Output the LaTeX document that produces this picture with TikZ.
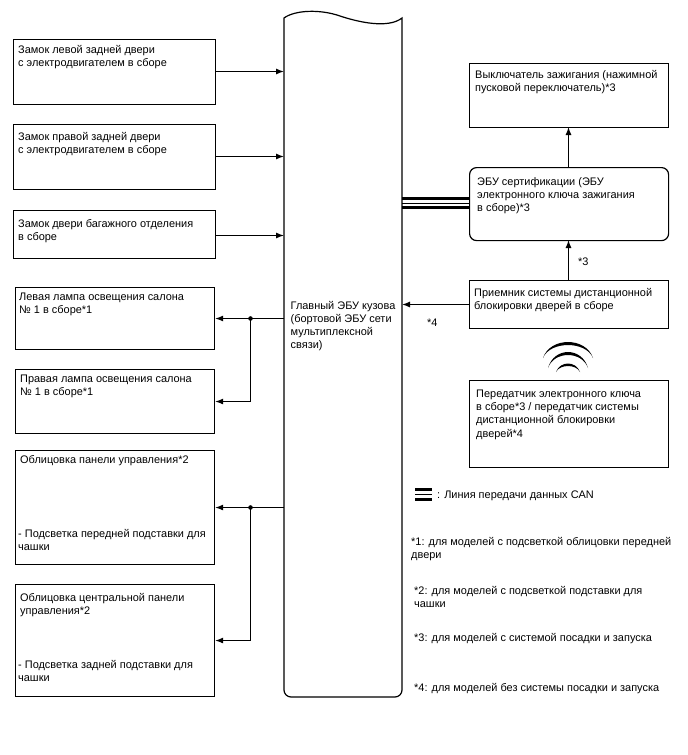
\documentclass[tikz,border=0pt]{standalone}
\usepackage{fontspec}
\setmainfont{Liberation Sans}
\usetikzlibrary{arrows.meta}
\tikzset{
  unitbox/.style={draw,line width=1.2pt,anchor=north west},
  boxtext/.style={anchor=north west,inner sep=0pt,align=left,font=\fontsize{10.95}{13.1}\selectfont},
  sig/.style={line width=1.1pt,-{Latex[length=8pt,width=6pt]}},
  canouter/.style={line width=3pt},
  caninner/.style={line width=1pt}
}
\begin{document}
\begin{tikzpicture}[x=1pt,y=-1pt]
  \useasboundingbox (0,0) rectangle (688,755);
  % left column
  \node[unitbox,minimum width=202pt,minimum height=65pt] (lrdoor) at (13,39) {};
  \node[unitbox,minimum width=202pt,minimum height=65pt] (rrdoor) at (13,124) {};
  \node[unitbox,minimum width=202pt,minimum height=48pt] (trunk) at (13,210) {};
  \node[unitbox,minimum width=199pt,minimum height=62pt] (llamp) at (15,287) {};
  \node[unitbox,minimum width=199pt,minimum height=64pt] (rlamp) at (15,369) {};
  \node[unitbox,minimum width=199pt,minimum height=114pt] (frontpanel) at (15,450) {};
  \node[unitbox,minimum width=199pt,minimum height=112pt] (centerpanel) at (15,584) {};
  \node[boxtext] at (18,45) {Замок левой задней двери\\с электродвигателем в сборе};
  \node[boxtext] at (18,132) {Замок правой задней двери\\с электродвигателем в сборе};
  \node[boxtext] at (18,219) {Замок двери багажного отделения\\в сборе};
  \node[boxtext] at (19,293) {Левая лампа освещения салона\\№ 1 в сборе*1};
  \node[boxtext] at (20,375) {Правая лампа освещения салона\\№ 1 в сборе*1};
  \node[boxtext] at (20,455) {Облицовка панели управления*2};
  \node[boxtext] at (18,529) {- Подсветка передней подставки для\\чашки};
  \node[boxtext] at (20,593) {Облицовка центральной панели\\управления*2};
  \node[boxtext] at (18,660) {- Подсветка задней подставки для\\чашки};
  % main unit
  \draw[line width=1.2pt] (284,18) .. controls (295,10) and (320,9) .. (340,16)
    .. controls (358,22) and (388,29) .. (402,18) -- (402,690) arc[start angle=0,end angle=90,radius=7]
    -- (291,697) arc[start angle=90,end angle=180,radius=7] -- cycle;
  \node[boxtext] (body) at (290.5,301) {Главный ЭБУ кузова\\(бортовой ЭБУ сети\\мультиплексной\\связи)};
  % right column
  \node[unitbox,minimum width=199pt,minimum height=64pt] (ignition) at (469,63) {};
  \node[unitbox,rounded corners=7pt,minimum width=199pt,minimum height=73pt] (cert) at (469,167) {};
  \node[unitbox,minimum width=199pt,minimum height=48pt] (receiver) at (469,280) {};
  \node[unitbox,minimum width=199pt,minimum height=87pt] (transmitter) at (469,380) {};
  \node[boxtext] at (475,70) {Выключатель зажигания (нажимной\\пусковой переключатель)*3};
  \node[boxtext] at (477,177) {ЭБУ сертификации (ЭБУ\\электронного ключа зажигания\\в сборе)*3};
  \node[boxtext] at (474,288.5) {Приемник системы дистанционной\\блокировки дверей в сборе};
  \node[boxtext] at (476,390) {Передатчик электронного ключа\\в сборе*3 / передатчик системы\\дистанционной блокировки\\дверей*4};
  % connectors
  \draw[sig] (lrdoor.east |- 0,71.5) -- (284,71.5);
  \draw[sig] (rrdoor.east |- 0,156.5) -- (284,156.5);
  \draw[sig] (trunk.east |- 0,235.5) -- (284,235.5);
  \draw[sig] (284,318.5) -- (llamp.east |- 0,318.5);
  \draw[sig] (250.5,318.5) -- (250.5,401.5) -- (rlamp.east |- 0,401.5);
  \fill (250.5,318.5) circle (2.3pt);
  \draw[sig] (284,507.5) -- (frontpanel.east |- 0,507.5);
  \draw[sig] (250.5,507.5) -- (250.5,640.5) -- (centerpanel.east |- 0,640.5);
  \fill (250.5,507.5) circle (2.3pt);
  \draw[sig] (568.5,280) -- (568.5,240);
  \draw[sig] (568.5,167) -- (568.5,127);
  \draw[sig] (receiver.west |- 0,304.5) -- (402,304.5);
  \node[boxtext] at (578,258) {*3};
  \node[boxtext] at (427,319) {*4};
  % CAN bus
  \draw[canouter] (402,198.5) -- (cert.west |- 0,198.5);
  \draw[caninner] (402,203) -- (cert.west |- 0,203);
  \draw[canouter] (402,207.5) -- (cert.west |- 0,207.5);
  % radio waves
  \fill (543,358) .. controls (550,336.7) and (586,336.7) .. (593,358)
    .. controls (586,340.7) and (550,340.7) .. cycle;
  \fill (548,368) .. controls (554,346.7) and (582,346.7) .. (588,368)
    .. controls (582,350.7) and (554,350.7) .. cycle;
  \fill (556,372) .. controls (560,360.7) and (576,360.7) .. (580,372)
    .. controls (576,364) and (560,364) .. cycle;
  % legend
  \draw[canouter] (415,489.5) -- (432,489.5);
  \draw[caninner] (415,494.5) -- (432,494.5);
  \draw[canouter] (415,499.5) -- (432,499.5);
  \node[boxtext] at (437,491) {: Линия передачи данных CAN};
  \node[boxtext] at (411,537) {*1: для моделей с подсветкой облицовки передней\\двери};
  \node[boxtext] at (414,586) {*2: для моделей с подсветкой подставки для\\чашки};
  \node[boxtext] at (414,633) {*3: для моделей с системой посадки и запуска};
  \node[boxtext] at (414,683) {*4: для моделей без системы посадки и запуска};
\end{tikzpicture}
\end{document}
